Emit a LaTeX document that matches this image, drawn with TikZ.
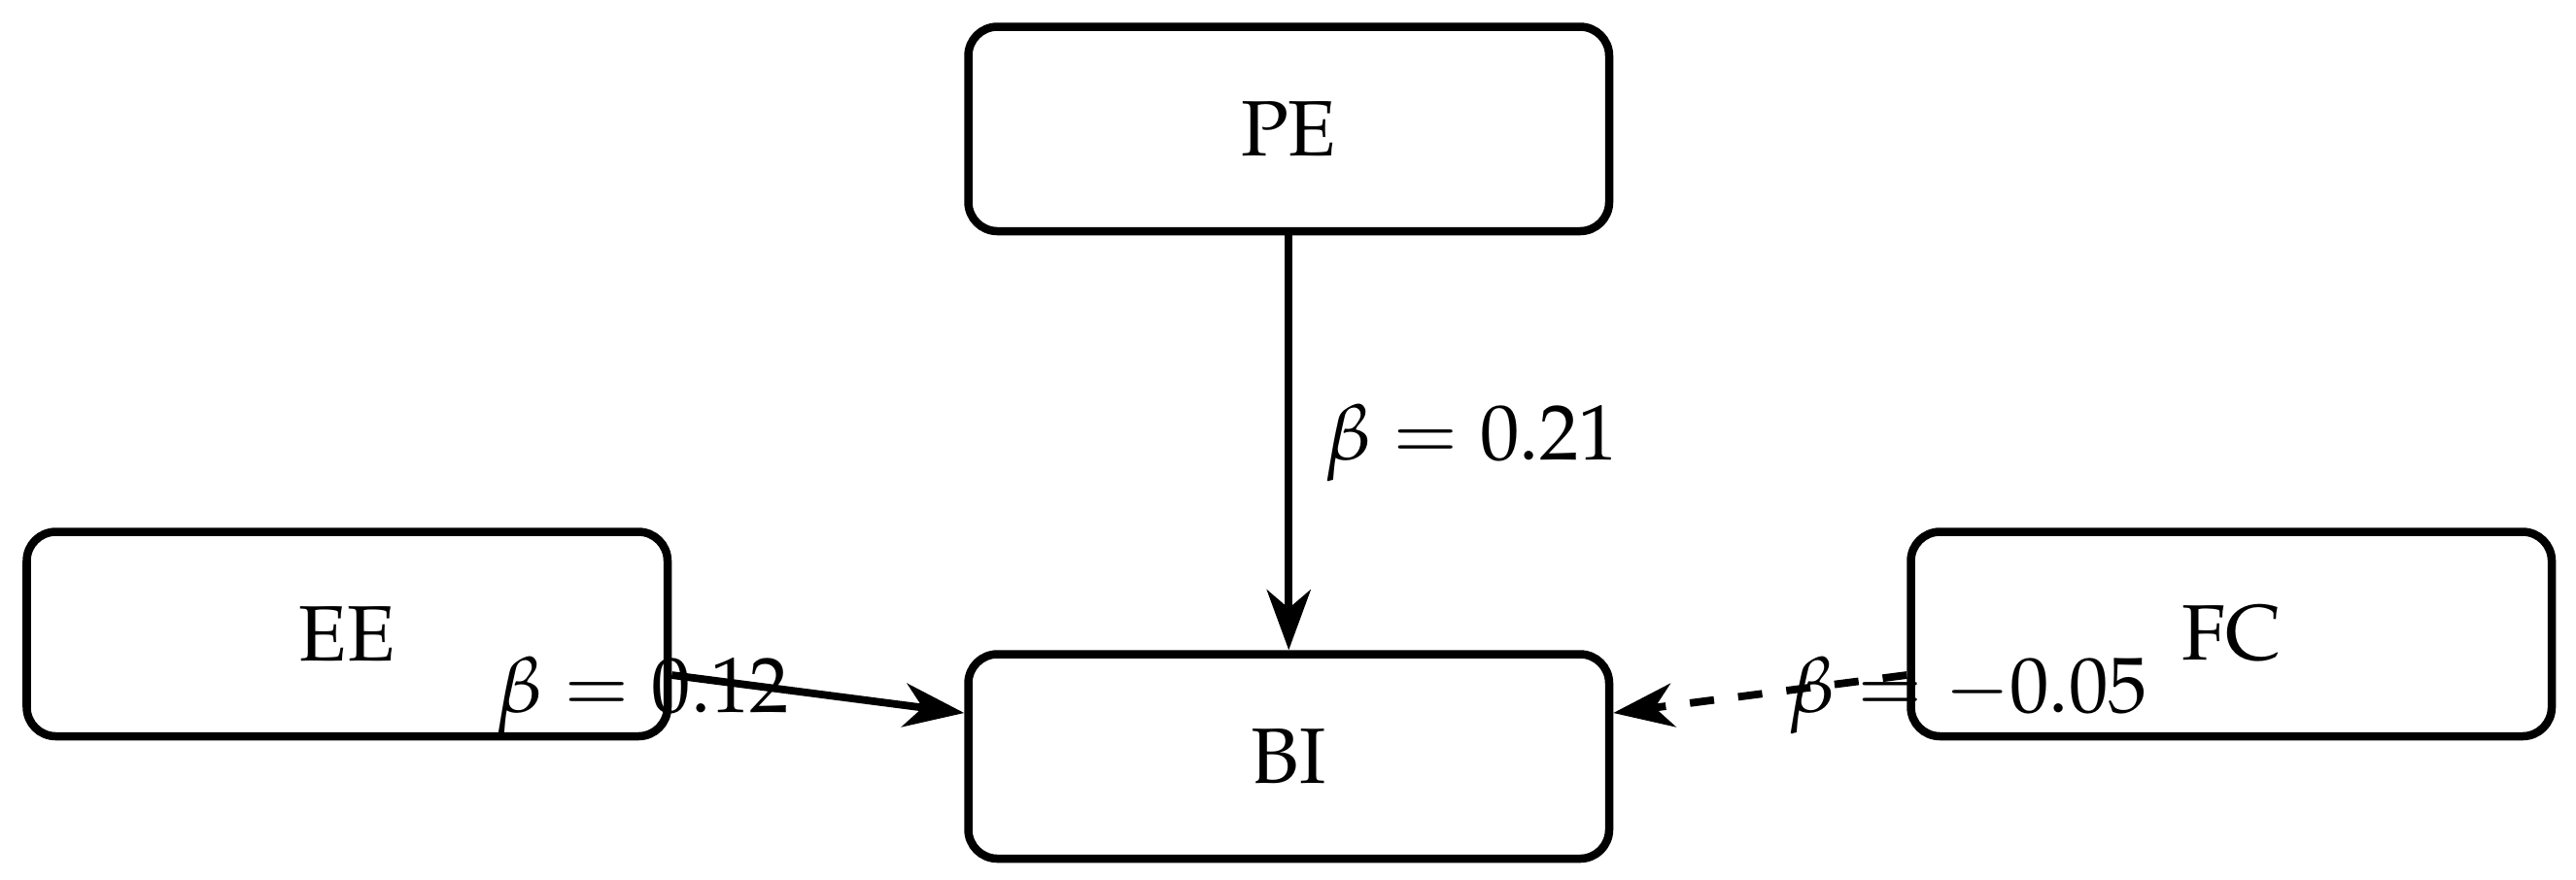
\documentclass[tikz,border=0pt]{standalone}
\usepackage[T1]{fontenc}
\usepackage{mathpazo}
\usetikzlibrary{arrows.meta,calc}
\tikzset{
  box/.style={draw, line width=0.085cm, rounded corners=0.3cm, minimum width=6.595cm, minimum height=2.105cm, font=\fontsize{23}{28}\selectfont},
  conn/.style={line width=0.078cm, -{Stealth[length=0.62cm, width=0.45cm, inset=0.19cm]}},
  lbl/.style={inner sep=0pt, font=\fontsize{23}{28}\selectfont},
}
\begin{document}
\begin{tikzpicture}
\useasboundingbox (0,0) rectangle (26.51,-9.05);
\node[box] (PE) at (13.2625,-1.3275) {PE};
\node[box] (EE) at (3.5725,-6.5275) {EE};
\node[box] (FC) at (22.9625,-6.5275) {FC};
\node[box] (BI) at (13.2625,-7.7875) {BI};
\coordinate (eeout) at ($(EE.east)+(0,-0.4225)$);
\coordinate (biin1) at ($(BI.west)+(0,0.4475)$);
\coordinate (fcout) at ($(FC.west)+(0,-0.4225)$);
\coordinate (biin2) at ($(BI.east)+(0,0.4475)$);
\draw[conn] (PE) -- node[lbl, midway, anchor=west, xshift=0.33cm] (l1) {$\beta = 0.21$} (BI);
\draw[conn] (eeout) -- (biin1);
\draw[conn, dash pattern=on 0.25cm off 0.25cm] (fcout) -- (biin2);
\node[lbl, anchor=base east] (l2) at (8.13,-7.33) {$\beta = 0.12$};
\node[lbl, anchor=base west] (l3) at (18.40,-7.33) {$\beta = -0.05$};
\end{tikzpicture}
\end{document}
